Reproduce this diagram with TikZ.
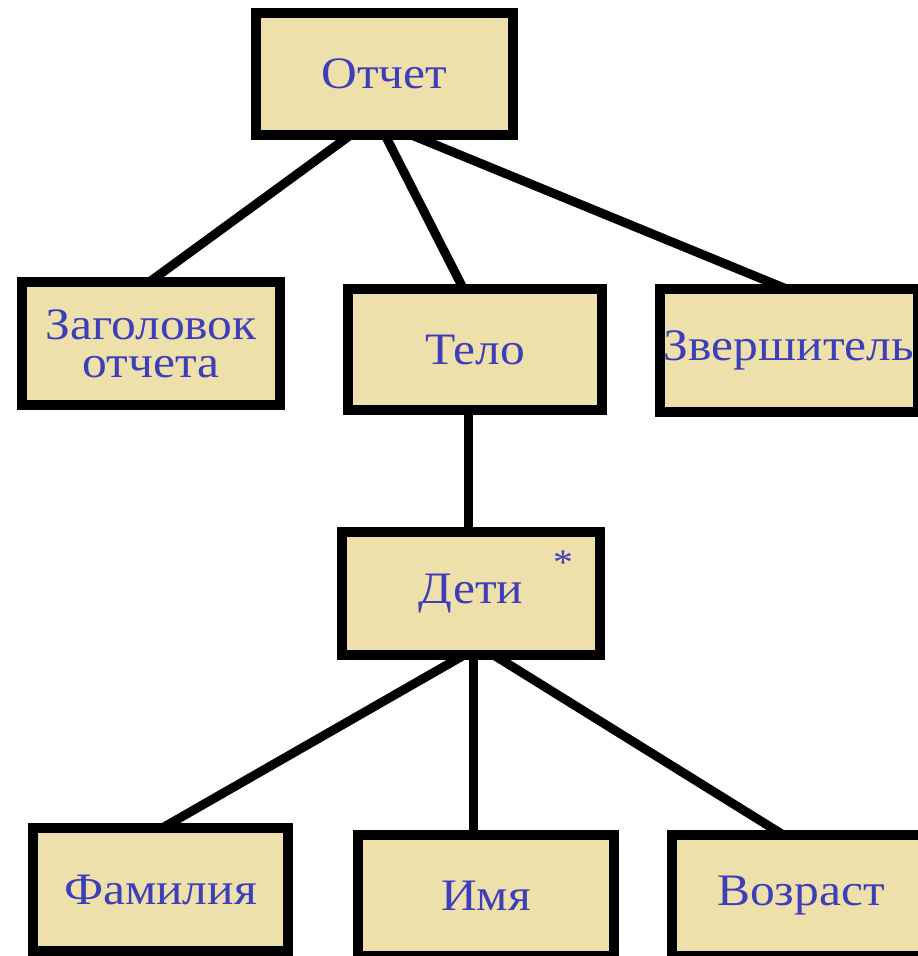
\documentclass[tikz,border=0pt]{standalone}
\usepackage{fontspec}
\setmainfont{Liberation Serif}[FakeStretch=1.1]
\usetikzlibrary{backgrounds}
\definecolor{boxfill}{RGB}{238,224,170}
\definecolor{boxtext}{RGB}{62,62,186}
\tikzset{
  part/.style={draw=black, line width=10pt, fill=boxfill, rectangle,
    inner sep=0pt, text=boxtext, font=\fontsize{45}{38}\selectfont,
    align=center},
  link/.style={draw=black, line width=9pt},
}
\begin{document}
\begin{tikzpicture}[x=1pt, y=-1pt]
  \clip (0,0) rectangle (918,956);

  % top level
  \node[part, minimum width=257pt, minimum height=122pt] (otchet) at (384.5,74) {Отчет};

  % second level
  \node[part, minimum width=258pt, minimum height=123pt] (zag) at (151,343.5) {Заголовок\\отчета};
  \node[part, minimum width=254pt, minimum height=121pt] (telo) at (475,349.5) {Тело};
  \node[part, minimum width=258pt, minimum height=123pt] (zvers) at (789,350.5) {Звершитель};

  % repeated element
  \node[part, minimum width=258pt, minimum height=123pt] (deti) at (471,593.5) {Дети};
  \node[text=boxtext, font=\fontsize{36}{36}\selectfont, anchor=base, inner sep=0pt] (star) at (563,574) {*};

  % leaves
  \node[part, minimum width=255pt, minimum height=123pt] (fam) at (160.5,889.5) {Фамилия};
  \node[part, minimum width=256pt, minimum height=121pt] (imya) at (486,895.5) {Имя};
  \node[part, minimum width=258pt, minimum height=121pt] (vozr) at (801,895.5) {Возраст};

  % white page and connectors, kept behind the boxes
  \begin{scope}[on background layer]
    \fill[white] (0,0) rectangle (918,956);
    \draw[link] ([xshift=-32.5pt,yshift=6pt]otchet.south) -- ([xshift=-3pt,yshift=-6pt]zag.north);
    \draw[link] ([xshift=0pt,yshift=6pt]otchet.south) -- ([xshift=-11pt,yshift=-6pt]telo.north);
    \draw[link] ([xshift=24.5pt,yshift=6pt]otchet.south) -- ([xshift=0pt,yshift=-6pt]zvers.north);
    \draw[link] ([xshift=-7pt,yshift=6pt]telo.south) -- ([xshift=-3pt,yshift=-6pt]deti.north);
    \draw[link] ([xshift=-5pt,yshift=6pt]deti.south) -- ([xshift=0pt,yshift=-6pt]fam.north);
    \draw[link] ([xshift=2pt,yshift=6pt]deti.south) -- ([xshift=-13pt,yshift=-6pt]imya.north);
    \draw[link] ([xshift=21pt,yshift=6pt]deti.south) -- ([xshift=-16pt,yshift=-6pt]vozr.north);
  \end{scope}
\end{tikzpicture}
\end{document}
